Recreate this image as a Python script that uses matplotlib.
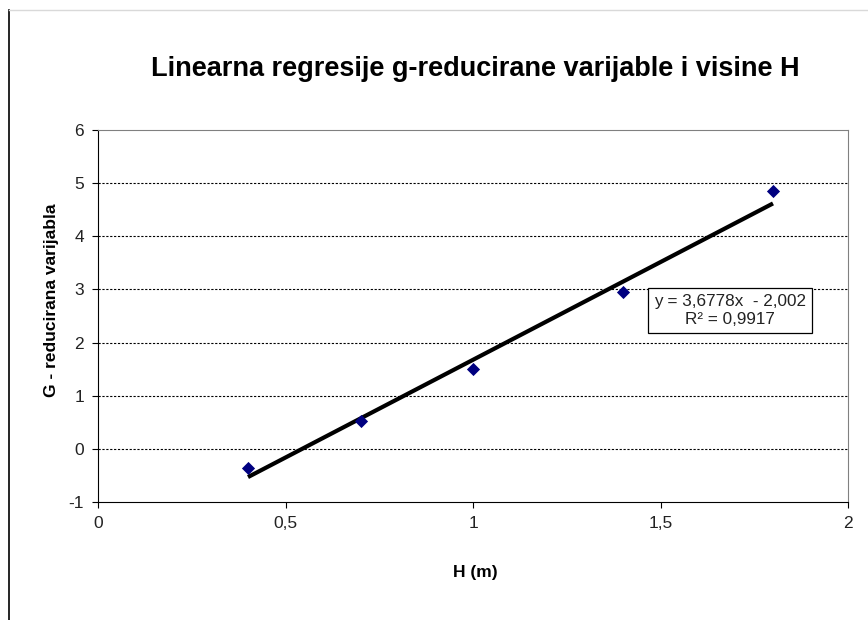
import matplotlib
matplotlib.use("Agg")
import matplotlib.pyplot as plt
import numpy as np
from matplotlib.lines import Line2D

# measured values
h_m = [0.4, 0.7, 1.0, 1.4, 1.8]
g_red = [-0.36, 0.53, 1.51, 2.95, 4.85]
slope = 3.6778
intercept = -2.002
r2_text = "R² = 0,9917"
eq_text = "y = 3,6778x  - 2,002"
x_ticks = [0, 0.5, 1, 1.5, 2]
x_ticklabels = ["0", "0,5", "1", "1,5", "2"]
y_ticks = [-1, 0, 1, 2, 3, 4, 5, 6]
y_ticklabels = ["-1", "0", "1", "2", "3", "4", "5", "6"]

plt.rcParams["font.family"] = ["Liberation Sans", "DejaVu Sans"]

fig = plt.figure(figsize=(8.68, 6.2), dpi=100)
ax = fig.add_axes([98 / 868, 118 / 620, 750 / 868, 372 / 620])

for y in y_ticks[1:-1]:
    ax.axhline(y, color="black", lw=0.8, ls=(0, (2, 1.5)), zorder=1)

xs = np.array([min(h_m), max(h_m)])
ax.plot(xs, slope * xs + intercept, color="black", lw=3, zorder=2, solid_capstyle="butt")
ax.scatter(h_m, g_red, marker="D", s=45, color="#000080", zorder=3, linewidths=0)

ax.set_xlim(0, 2)
ax.set_ylim(-1, 6)
ax.set_xticks(x_ticks)
ax.set_xticklabels(x_ticklabels)
ax.set_yticks(y_ticks)
ax.set_yticklabels(y_ticklabels)
ax.tick_params(direction="out", length=4, width=0.8, labelsize=12.5, colors="black",
               labelcolor="#222222")
ax.tick_params(axis="x", pad=6)
ax.tick_params(axis="y", pad=6)
for sp in ax.spines.values():
    sp.set_linewidth(0.8)
ax.spines["right"].set_color("#808080")
ax.spines["top"].set_color("#808080")

ax.text(1.685, 2.6, eq_text + "\n" + r2_text, ha="center", va="center", fontsize=12.3,
        linespacing=1.25, color="#222222",
        bbox=dict(boxstyle="square,pad=0.35", fc="white", ec="black", lw=0.9), zorder=4)

fig.text(475 / 868, 1 - 572 / 620, "H (m)", ha="center", va="center",
         fontsize=12.5, fontweight="bold")
fig.text(52 / 868, 1 - 300 / 620, "G - reducirana varijabla", ha="center", va="center",
         rotation=90, fontsize=12.5, fontweight="bold")
fig.text(475 / 868, 1 - 69 / 620, "Linearna regresije g-reducirane varijable i visine H",
         ha="center", va="center", fontsize=19.5, fontweight="bold")

# outer chart frame
fig.add_artist(Line2D([9 / 868, 9 / 868], [0, 1 - 10 / 620], color="black", lw=1.2))
fig.add_artist(Line2D([9 / 868, 1], [1 - 10 / 620, 1 - 10 / 620], color="#d9d9d9", lw=1))

fig.savefig("out.png", dpi=100)
